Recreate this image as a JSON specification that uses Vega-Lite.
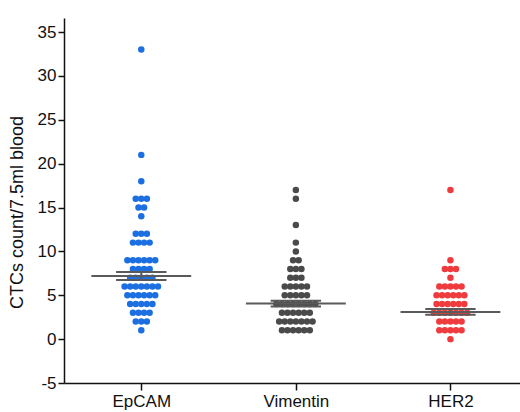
{
  "$schema": "https://vega.github.io/schema/vega-lite/v6.json",
  "width": 456,
  "height": 365,
  "autosize": {"type": "none"},
  "padding": {"left": 64, "top": 18, "right": 0, "bottom": 29},
  "background": "white",
  "config": {
    "view": {"stroke": null},
    "font": "Liberation Sans",
    "axis": {"labelFont": "Liberation Sans", "titleFont": "Liberation Sans", "labelColor": "#111", "titleColor": "#111"}
  },
  "datasets": {
    "points": [
      {"marker": "EpCAM", "ctc": 33}, {"marker": "EpCAM", "ctc": 21}, {"marker": "EpCAM", "ctc": 18},
      {"marker": "EpCAM", "ctc": 16}, {"marker": "EpCAM", "ctc": 16}, {"marker": "EpCAM", "ctc": 16},
      {"marker": "EpCAM", "ctc": 15}, {"marker": "EpCAM", "ctc": 15}, {"marker": "EpCAM", "ctc": 14},
      {"marker": "EpCAM", "ctc": 12}, {"marker": "EpCAM", "ctc": 12}, {"marker": "EpCAM", "ctc": 12},
      {"marker": "EpCAM", "ctc": 11}, {"marker": "EpCAM", "ctc": 11}, {"marker": "EpCAM", "ctc": 11}, {"marker": "EpCAM", "ctc": 11},
      {"marker": "EpCAM", "ctc": 9}, {"marker": "EpCAM", "ctc": 9}, {"marker": "EpCAM", "ctc": 9}, {"marker": "EpCAM", "ctc": 9}, {"marker": "EpCAM", "ctc": 9}, {"marker": "EpCAM", "ctc": 9},
      {"marker": "EpCAM", "ctc": 8}, {"marker": "EpCAM", "ctc": 8}, {"marker": "EpCAM", "ctc": 8}, {"marker": "EpCAM", "ctc": 8},
      {"marker": "EpCAM", "ctc": 7}, {"marker": "EpCAM", "ctc": 7}, {"marker": "EpCAM", "ctc": 7}, {"marker": "EpCAM", "ctc": 7}, {"marker": "EpCAM", "ctc": 7},
      {"marker": "EpCAM", "ctc": 6}, {"marker": "EpCAM", "ctc": 6}, {"marker": "EpCAM", "ctc": 6}, {"marker": "EpCAM", "ctc": 6}, {"marker": "EpCAM", "ctc": 6}, {"marker": "EpCAM", "ctc": 6}, {"marker": "EpCAM", "ctc": 6},
      {"marker": "EpCAM", "ctc": 5}, {"marker": "EpCAM", "ctc": 5}, {"marker": "EpCAM", "ctc": 5}, {"marker": "EpCAM", "ctc": 5}, {"marker": "EpCAM", "ctc": 5}, {"marker": "EpCAM", "ctc": 5},
      {"marker": "EpCAM", "ctc": 4}, {"marker": "EpCAM", "ctc": 4}, {"marker": "EpCAM", "ctc": 4}, {"marker": "EpCAM", "ctc": 4}, {"marker": "EpCAM", "ctc": 4},
      {"marker": "EpCAM", "ctc": 3}, {"marker": "EpCAM", "ctc": 3}, {"marker": "EpCAM", "ctc": 3}, {"marker": "EpCAM", "ctc": 3},
      {"marker": "EpCAM", "ctc": 2}, {"marker": "EpCAM", "ctc": 2}, {"marker": "EpCAM", "ctc": 2},
      {"marker": "EpCAM", "ctc": 1},
      {"marker": "Vimentin", "ctc": 17}, {"marker": "Vimentin", "ctc": 16}, {"marker": "Vimentin", "ctc": 13},
      {"marker": "Vimentin", "ctc": 11}, {"marker": "Vimentin", "ctc": 10},
      {"marker": "Vimentin", "ctc": 9}, {"marker": "Vimentin", "ctc": 9},
      {"marker": "Vimentin", "ctc": 8}, {"marker": "Vimentin", "ctc": 8}, {"marker": "Vimentin", "ctc": 8},
      {"marker": "Vimentin", "ctc": 7}, {"marker": "Vimentin", "ctc": 7}, {"marker": "Vimentin", "ctc": 7},
      {"marker": "Vimentin", "ctc": 6}, {"marker": "Vimentin", "ctc": 6}, {"marker": "Vimentin", "ctc": 6}, {"marker": "Vimentin", "ctc": 6}, {"marker": "Vimentin", "ctc": 6},
      {"marker": "Vimentin", "ctc": 5}, {"marker": "Vimentin", "ctc": 5}, {"marker": "Vimentin", "ctc": 5}, {"marker": "Vimentin", "ctc": 5}, {"marker": "Vimentin", "ctc": 5},
      {"marker": "Vimentin", "ctc": 4}, {"marker": "Vimentin", "ctc": 4}, {"marker": "Vimentin", "ctc": 4}, {"marker": "Vimentin", "ctc": 4}, {"marker": "Vimentin", "ctc": 4}, {"marker": "Vimentin", "ctc": 4}, {"marker": "Vimentin", "ctc": 4}, {"marker": "Vimentin", "ctc": 4},
      {"marker": "Vimentin", "ctc": 3}, {"marker": "Vimentin", "ctc": 3}, {"marker": "Vimentin", "ctc": 3}, {"marker": "Vimentin", "ctc": 3}, {"marker": "Vimentin", "ctc": 3}, {"marker": "Vimentin", "ctc": 3},
      {"marker": "Vimentin", "ctc": 2}, {"marker": "Vimentin", "ctc": 2}, {"marker": "Vimentin", "ctc": 2}, {"marker": "Vimentin", "ctc": 2}, {"marker": "Vimentin", "ctc": 2}, {"marker": "Vimentin", "ctc": 2}, {"marker": "Vimentin", "ctc": 2},
      {"marker": "Vimentin", "ctc": 1}, {"marker": "Vimentin", "ctc": 1}, {"marker": "Vimentin", "ctc": 1}, {"marker": "Vimentin", "ctc": 1}, {"marker": "Vimentin", "ctc": 1}, {"marker": "Vimentin", "ctc": 1},
      {"marker": "HER2", "ctc": 17}, {"marker": "HER2", "ctc": 9},
      {"marker": "HER2", "ctc": 8}, {"marker": "HER2", "ctc": 8}, {"marker": "HER2", "ctc": 8},
      {"marker": "HER2", "ctc": 7},
      {"marker": "HER2", "ctc": 6}, {"marker": "HER2", "ctc": 6}, {"marker": "HER2", "ctc": 6}, {"marker": "HER2", "ctc": 6}, {"marker": "HER2", "ctc": 6},
      {"marker": "HER2", "ctc": 5}, {"marker": "HER2", "ctc": 5}, {"marker": "HER2", "ctc": 5}, {"marker": "HER2", "ctc": 5}, {"marker": "HER2", "ctc": 5}, {"marker": "HER2", "ctc": 5},
      {"marker": "HER2", "ctc": 4}, {"marker": "HER2", "ctc": 4}, {"marker": "HER2", "ctc": 4}, {"marker": "HER2", "ctc": 4}, {"marker": "HER2", "ctc": 4}, {"marker": "HER2", "ctc": 4},
      {"marker": "HER2", "ctc": 3}, {"marker": "HER2", "ctc": 3}, {"marker": "HER2", "ctc": 3}, {"marker": "HER2", "ctc": 3}, {"marker": "HER2", "ctc": 3}, {"marker": "HER2", "ctc": 3}, {"marker": "HER2", "ctc": 3},
      {"marker": "HER2", "ctc": 2}, {"marker": "HER2", "ctc": 2}, {"marker": "HER2", "ctc": 2}, {"marker": "HER2", "ctc": 2}, {"marker": "HER2", "ctc": 2},
      {"marker": "HER2", "ctc": 1}, {"marker": "HER2", "ctc": 1}, {"marker": "HER2", "ctc": 1}, {"marker": "HER2", "ctc": 1}, {"marker": "HER2", "ctc": 1},
      {"marker": "HER2", "ctc": 0}
    ],
    "summary": [
      {"marker": "EpCAM", "mean": 7.2, "se": 0.46},
      {"marker": "Vimentin", "mean": 4.05, "se": 0.33},
      {"marker": "HER2", "mean": 3.1, "se": 0.32}
    ]
  },
  "layer": [
    {
      "data": {"name": "points"},
      "transform": [
        {"calculate": "indexof(['EpCAM','Vimentin','HER2'], datum.marker) + 1", "as": "idx"},
        {"window": [{"op": "row_number", "as": "rank"}], "groupby": ["marker", "ctc"]},
        {"joinaggregate": [{"op": "count", "as": "n"}], "groupby": ["marker", "ctc"]},
        {"calculate": "datum.idx + (datum.rank - (datum.n + 1) / 2) * 0.036", "as": "xpos"}
      ],
      "mark": {"type": "circle", "size": 42, "opacity": 1},
      "encoding": {
        "x": {
          "field": "xpos", "type": "quantitative", "title": null,
          "scale": {"domain": [0.5, 3.45], "nice": false, "zero": false},
          "axis": {
            "values": [1, 2, 3],
            "labelExpr": "datum.value == 1 ? 'EpCAM' : datum.value == 2 ? 'Vimentin' : 'HER2'",
            "grid": false,
            "domainColor": "#111", "domainWidth": 1.5,
            "tickColor": "#111", "tickWidth": 1.5, "tickSize": 7,
            "labelFontSize": 17, "labelPadding": 3
          }
        },
        "y": {
          "field": "ctc", "type": "quantitative", "title": "CTCs count/7.5ml blood",
          "scale": {"domain": [-5, 36.6], "nice": false, "zero": false},
          "axis": {
            "values": [-5, -2.5, 0, 2.5, 5, 7.5, 10, 12.5, 15, 17.5, 20, 22.5, 25, 27.5, 30, 32.5, 35],
            "labelExpr": "datum.value % 5 === 0 ? '' + datum.value : ''",
            "tickSize": {"condition": {"test": "datum.value % 5 !== 0", "value": 3}, "value": 6},
            "grid": false,
            "domainColor": "#111", "domainWidth": 1.5,
            "tickColor": "#111", "tickWidth": 1.5,
            "labelFontSize": 17, "labelPadding": 2,
            "titleFontSize": 18, "titleFontWeight": "normal",
            "titleX": -38, "titleY": 194
          }
        },
        "color": {
          "field": "marker", "type": "nominal",
          "scale": {"domain": ["EpCAM", "Vimentin", "HER2"], "range": ["#1b6fe0", "#4a4a4a", "#ef3b3d"]},
          "legend": null
        }
      }
    },
    {
      "data": {"name": "summary"},
      "transform": [
        {"calculate": "indexof(['EpCAM','Vimentin','HER2'], datum.marker) + 1", "as": "idx"},
        {"calculate": "datum.idx - 0.323", "as": "x1"},
        {"calculate": "datum.idx + 0.323", "as": "x2"}
      ],
      "mark": {"type": "rule", "color": "#5a5a5a", "strokeWidth": 2},
      "encoding": {
        "x": {"field": "x1", "type": "quantitative", "title": null},
        "x2": {"field": "x2"},
        "y": {"field": "mean", "type": "quantitative", "title": "CTCs count/7.5ml blood"}
      }
    },
    {
      "data": {"name": "summary"},
      "transform": [
        {"calculate": "indexof(['EpCAM','Vimentin','HER2'], datum.marker) + 1", "as": "idx"},
        {"calculate": "datum.idx - 0.163", "as": "x1"},
        {"calculate": "datum.idx + 0.163", "as": "x2"},
        {"calculate": "datum.mean + datum.se", "as": "hi"},
        {"calculate": "datum.mean - datum.se", "as": "lo"},
        {"fold": ["hi", "lo"], "as": ["which", "yv"]}
      ],
      "mark": {"type": "rule", "color": "#5a5a5a", "strokeWidth": 2},
      "encoding": {
        "x": {"field": "x1", "type": "quantitative", "title": null},
        "x2": {"field": "x2"},
        "y": {"field": "yv", "type": "quantitative", "title": "CTCs count/7.5ml blood"}
      }
    },
    {
      "data": {"name": "summary"},
      "transform": [
        {"calculate": "indexof(['EpCAM','Vimentin','HER2'], datum.marker) + 1", "as": "idx"},
        {"calculate": "datum.mean + datum.se", "as": "hi"},
        {"calculate": "datum.mean - datum.se", "as": "lo"}
      ],
      "mark": {"type": "rule", "color": "#5a5a5a", "strokeWidth": 2},
      "encoding": {
        "x": {"field": "idx", "type": "quantitative", "title": null},
        "y": {"field": "lo", "type": "quantitative", "title": "CTCs count/7.5ml blood"},
        "y2": {"field": "hi"}
      }
    }
  ]
}
